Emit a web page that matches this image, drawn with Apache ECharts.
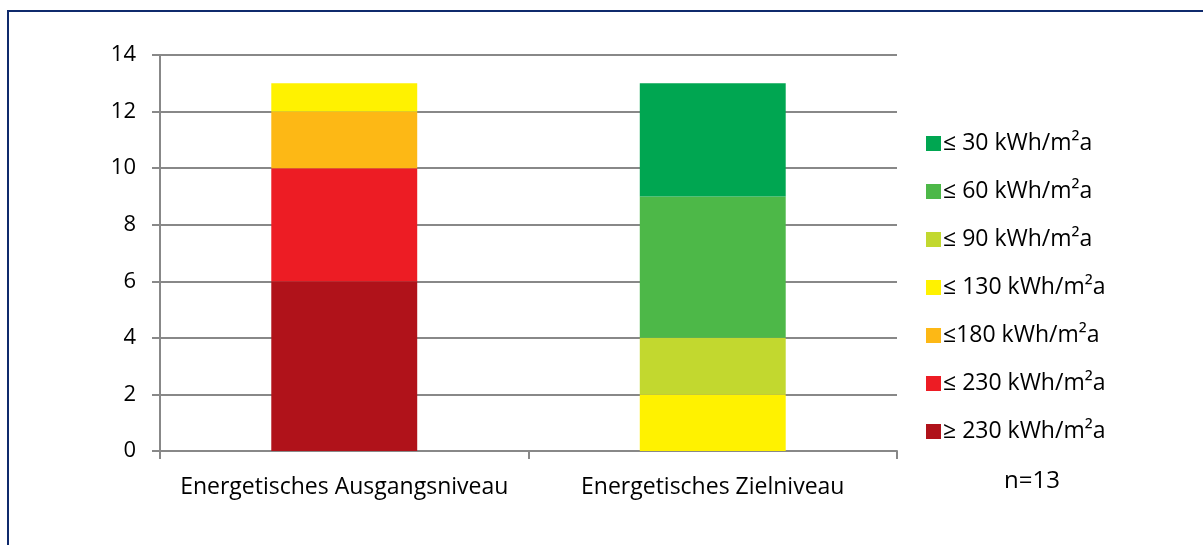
<!DOCTYPE html>
<html>
<head>
<meta charset="utf-8">
<script src="https://cdn.jsdelivr.net/npm/echarts@6/dist/echarts.min.js"></script>
<style>
html, body { margin: 0; padding: 0; background: #fff; }
#chart { width: 1203px; height: 545px; }
</style>
</head>
<body>
<div id="chart"></div>
<script>
const categories = ["Energetisches Ausgangsniveau", "Energetisches Zielniveau"];
const seriesNames = ["≥ 230 kWh/m²a", "≤ 230 kWh/m²a", "≤180 kWh/m²a", "≤ 130 kWh/m²a", "≤ 90 kWh/m²a", "≤ 60 kWh/m²a", "≤ 30 kWh/m²a"];
const seriesColors = ["#B0121A", "#ED1C24", "#FDB815", "#FFF200", "#C2D82F", "#4DB848", "#00A651"];
const seriesValues = [
  [6, 0],
  [4, 0],
  [2, 0],
  [1, 2],
  [0, 2],
  [0, 5],
  [0, 4]
];
const yTicks = { min: 0, max: 14, interval: 2 };
const note = "n=13";

const font = "'Open Sans', sans-serif";
const chart = echarts.init(document.getElementById("chart"));

const series = seriesNames.map((name, i) => ({
  name: name,
  type: "bar",
  stack: "total",
  barWidth: "39.6%",
  itemStyle: { color: seriesColors[i] },
  data: seriesValues[i]
}));

chart.setOption({
  animation: false,
  textStyle: { fontFamily: font },
  graphic: [
    {
      type: "rect",
      shape: { x: 8, y: 11, width: 1220, height: 560 },
      style: { fill: "none", stroke: "#0F2A6C", lineWidth: 2 }
    },
    {
      type: "text",
      left: 1004,
      top: 469,
      style: { text: note, fontSize: 24, fill: "#000", fontFamily: font }
    }
  ],
  grid: { left: 160, right: 306, top: 55, bottom: 94 },
  legend: {
    orient: "vertical",
    left: 921,
    top: 127,
    itemWidth: 15,
    itemHeight: 15,
    itemGap: 25,
    icon: "rect",
    data: seriesNames.slice().reverse(),
    textStyle: { fontSize: 23, lineHeight: 23, color: "#000", fontFamily: font, padding: [0, 0, 0, -3] }
  },
  xAxis: {
    type: "category",
    data: categories,
    axisLine: { lineStyle: { color: "#888", width: 2 } },
    axisTick: { show: true, length: 8, lineStyle: { color: "#888", width: 2 } },
    axisLabel: { interval: 0, fontSize: 23, color: "#000", margin: 25 }
  },
  yAxis: {
    type: "value",
    min: yTicks.min,
    max: yTicks.max,
    interval: yTicks.interval,
    axisLine: { show: true, lineStyle: { color: "#888", width: 2 } },
    axisTick: { show: true, length: 8, lineStyle: { color: "#888", width: 2 } },
    splitLine: { lineStyle: { color: "#888", width: 2 } },
    axisLabel: { fontSize: 22, color: "#000", margin: 24 }
  },
  series: series
});
</script>
</body>
</html>
